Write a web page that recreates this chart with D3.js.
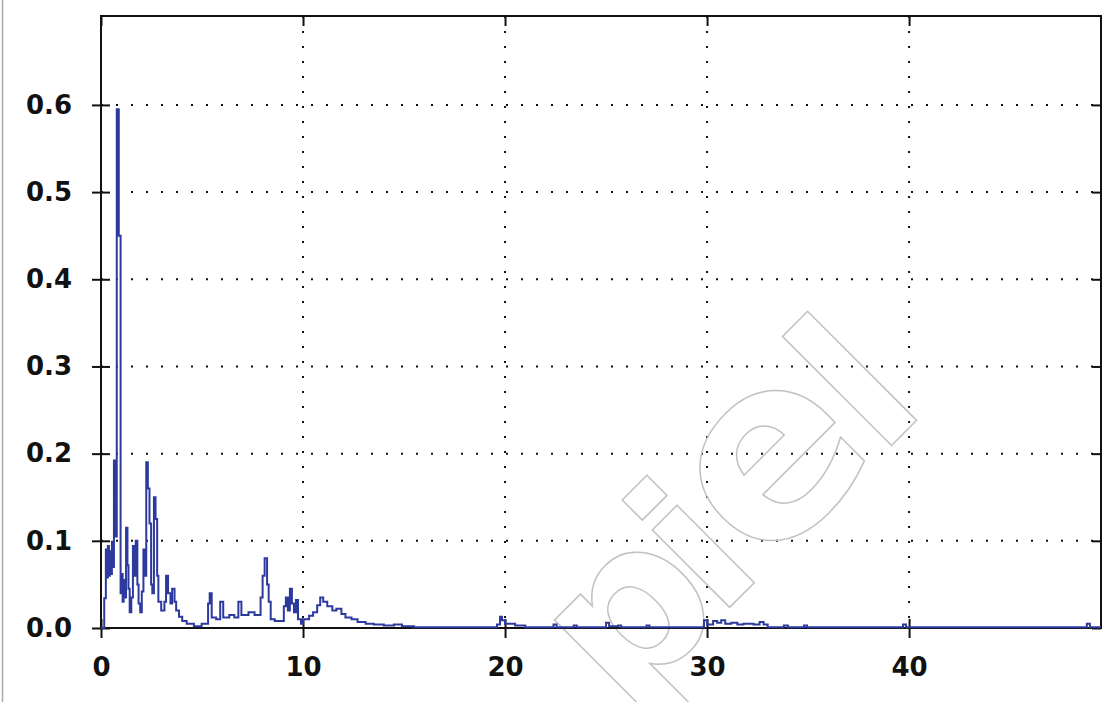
<!DOCTYPE html>
<html>
<head>
<meta charset="utf-8">
<script src="https://cdn.jsdelivr.net/npm/d3@7"></script>
<style>
  html, body { margin: 0; padding: 0; background: #fff; }
  svg { display: block; }
</style>
</head>
<body>
<div class="chart-container"></div>
<script>
//! CONSTS
const width = 1116
const height = 702
const plotLeft = 101, plotRight = 1101, plotTop = 16, plotBottom = 628

//! DATA (step starts, Hz / amplitude)
const freqHz = [
  0.00, 0.16, 0.24, 0.29, 0.34, 0.39, 0.44, 0.49, 0.54, 0.59,
  0.64, 0.72, 0.78, 0.88, 0.97, 1.02, 1.07, 1.12, 1.18, 1.24,
  1.31, 1.36, 1.42, 1.50, 1.58, 1.66, 1.72, 1.80, 1.86, 1.94,
  2.02, 2.10, 2.18, 2.24, 2.32, 2.40, 2.48, 2.54, 2.62, 2.70,
  2.78, 2.84, 2.98, 3.14, 3.22, 3.32, 3.44, 3.52, 3.64, 3.72,
  3.86, 4.02, 4.24, 4.60, 4.98, 5.30, 5.38, 5.48, 5.70, 5.90,
  6.05, 6.35, 6.60, 6.80, 6.95, 7.30, 7.60, 7.90, 8.00, 8.10,
  8.22, 8.30, 8.40, 8.60, 9.05, 9.15, 9.25, 9.35, 9.45, 9.55,
  9.65, 9.75, 9.90, 10.00, 10.30, 10.50, 10.70, 10.85, 11.00, 11.20,
  11.45, 11.65, 11.90, 12.10, 12.40, 12.70, 13.10, 13.50, 14.00, 14.50,
  14.90, 15.50, 19.60, 19.75, 19.85, 20.00, 20.50, 21.00, 22.40, 22.55,
  23.40, 23.55, 25.00, 25.15, 25.60, 25.75, 27.00, 27.15, 29.85, 30.00,
  30.30, 30.50, 30.70, 30.90, 31.20, 31.50, 31.80, 32.30, 32.60, 32.80,
  33.00, 33.80, 34.00, 34.80, 34.95, 39.70, 39.85, 48.80, 48.95, 49.50
]
const amplitude = [
  0.000, 0.034, 0.090, 0.058, 0.094, 0.060, 0.088, 0.062, 0.099, 0.070,
  0.192, 0.105, 0.595, 0.450, 0.040, 0.062, 0.030, 0.055, 0.035, 0.115,
  0.072, 0.045, 0.018, 0.035, 0.094, 0.060, 0.100, 0.050, 0.028, 0.018,
  0.042, 0.090, 0.060, 0.190, 0.160, 0.120, 0.050, 0.040, 0.150, 0.125,
  0.060, 0.030, 0.020, 0.030, 0.060, 0.040, 0.028, 0.045, 0.030, 0.020,
  0.013, 0.008, 0.005, 0.002, 0.005, 0.028, 0.040, 0.012, 0.010, 0.030,
  0.012, 0.015, 0.012, 0.030, 0.015, 0.018, 0.015, 0.035, 0.060, 0.080,
  0.050, 0.030, 0.010, 0.008, 0.025, 0.035, 0.020, 0.045, 0.028, 0.018,
  0.032, 0.010, 0.005, 0.010, 0.014, 0.018, 0.026, 0.035, 0.030, 0.025,
  0.020, 0.022, 0.016, 0.012, 0.010, 0.007, 0.005, 0.004, 0.003, 0.004,
  0.002, 0.001, 0.004, 0.013, 0.009, 0.005, 0.003, 0.001, 0.004, 0.001,
  0.003, 0.001, 0.006, 0.002, 0.003, 0.001, 0.003, 0.001, 0.009, 0.004,
  0.008, 0.006, 0.009, 0.005, 0.006, 0.004, 0.005, 0.004, 0.007, 0.004,
  0.001, 0.003, 0.001, 0.003, 0.001, 0.004, 0.001, 0.005, 0.001, 0.001
]
const xTicks = [0, 10, 20, 30, 40]
const yTicks = [0, 0.1, 0.2, 0.3, 0.4, 0.5, 0.6]
const watermarkLetters = ['p', 'i', 'e', 'l']

const dataset = freqHz.map((f, i) => ({ f: f, a: amplitude[i] }))

//! SVG
const svg = d3.select('.chart-container')
  .append('svg')
  .attr('width', width)
  .attr('height', height)

// image border on the left
svg.append('line')
  .attr('x1', 2.5).attr('x2', 2.5).attr('y1', 0).attr('y2', height)
  .attr('stroke', '#a8a8a8').attr('stroke-width', 1.5)

//! SCALES
const xScale = d3.scaleLinear().domain([0, 49.5]).range([plotLeft, plotRight])
const yScale = d3.scaleLinear().domain([0, 0.702]).range([plotBottom, plotTop])

//! GRID
svg.append('g').selectAll('line')
  .data(yTicks.slice(1))
  .enter().append('line')
  .attr('x1', plotLeft).attr('x2', plotRight)
  .attr('y1', d => yScale(d)).attr('y2', d => yScale(d))
  .attr('stroke', '#111').attr('stroke-width', 2)
  .attr('stroke-dasharray', '2,13')

svg.append('g').selectAll('line')
  .data(xTicks.slice(1))
  .enter().append('line')
  .attr('x1', d => xScale(d)).attr('x2', d => xScale(d))
  .attr('y1', plotTop).attr('y2', plotBottom)
  .attr('stroke', '#111').attr('stroke-width', 2)
  .attr('stroke-dasharray', '2,13')

//! WATERMARK (outlined letters on a 45deg baseline)
const wm = svg.append('g')
  .attr('transform', 'translate(904,433) rotate(-45)')
  .attr('font-family', '"DejaVu Sans", Verdana, sans-serif')
  .attr('font-weight', 'bold')
  .attr('text-anchor', 'middle')
  .attr('fill', 'none')
  .attr('stroke', '#c2c2c2')
  .attr('stroke-width', 1.5)
const wmPos = [-322, -229, -114, 0]
const wmSize = [210, 200, 250, 203]
wm.selectAll('text')
  .data(watermarkLetters)
  .enter().append('text')
  .attr('x', (d, i) => wmPos[i])
  .attr('y', 0)
  .attr('font-size', (d, i) => wmSize[i])
  .text(d => d)

//! AXES
const styleAxis = g => {
  g.selectAll('.domain').remove()
  g.selectAll('line').attr('stroke', '#111').attr('stroke-width', 2)
}

svg.append('g')
  .attr('transform', `translate(${plotLeft},0)`)
  .call(d3.axisLeft(yScale).tickValues(yTicks).tickSize(9).tickPadding(20)
    .tickFormat(d3.format('.1f')))
  .call(styleAxis)
  .call(g => g.selectAll('text')
    .attr('font-family', '"DejaVu Sans", Verdana, sans-serif')
    .attr('font-weight', 'bold').attr('font-size', 26).attr('fill', '#111'))

svg.append('g')
  .attr('transform', `translate(${plotLeft},0)`)
  .call(d3.axisRight(yScale).tickValues(yTicks).tickSize(9).tickFormat(''))
  .call(styleAxis)

svg.append('g')
  .attr('transform', `translate(${plotRight},0)`)
  .call(d3.axisLeft(yScale).tickValues(yTicks).tickSize(9).tickFormat(''))
  .call(styleAxis)

svg.append('g')
  .attr('transform', `translate(0,${plotBottom})`)
  .call(d3.axisBottom(xScale).tickValues(xTicks).tickSize(10).tickPadding(20)
    .tickFormat(d3.format('d')))
  .call(styleAxis)
  .call(g => g.selectAll('text')
    .attr('font-family', '"DejaVu Sans", Verdana, sans-serif')
    .attr('font-weight', 'bold').attr('font-size', 26).attr('fill', '#111'))

svg.append('g')
  .attr('transform', `translate(0,${plotBottom})`)
  .call(d3.axisTop(xScale).tickValues(xTicks).tickSize(9).tickFormat(''))
  .call(styleAxis)

svg.append('g')
  .attr('transform', `translate(0,${plotTop})`)
  .call(d3.axisBottom(xScale).tickValues(xTicks).tickSize(10).tickFormat(''))
  .call(styleAxis)

// frame
svg.append('path')
  .attr('d', `M${plotLeft},${plotBottom}V${plotTop}H${plotRight}V${plotBottom}H${plotLeft}`)
  .attr('fill', 'none').attr('stroke', '#111').attr('stroke-width', 2)

//! SPECTRUM
const line = d3.line()
  .x(d => xScale(d.f))
  .y(d => yScale(d.a))
  .curve(d3.curveStepAfter)

svg.append('path')
  .datum(dataset)
  .attr('d', line)
  .attr('fill', 'none')
  .attr('stroke', '#2c3a9e')
  .attr('stroke-width', 2)
</script>
</body>
</html>
